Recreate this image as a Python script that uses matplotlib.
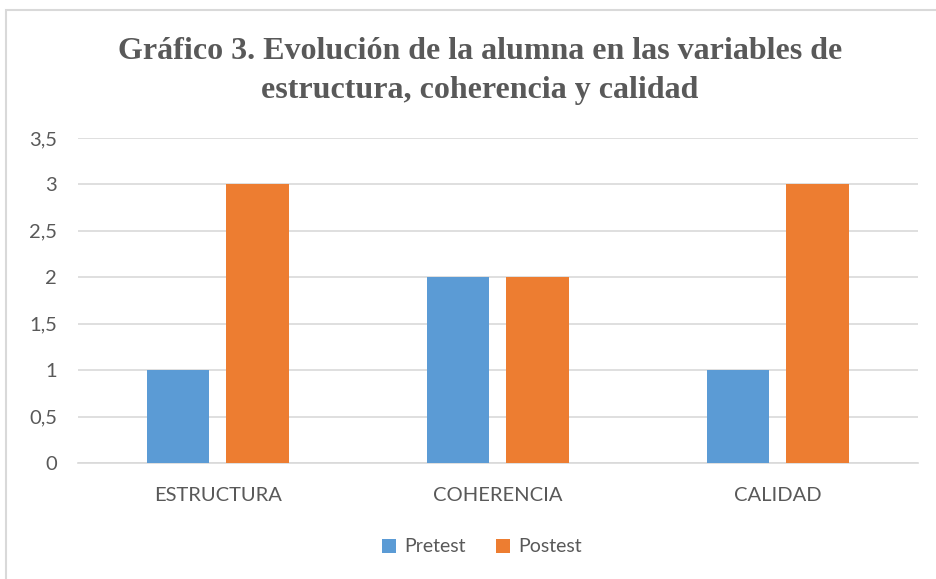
import matplotlib.pyplot as plt
import numpy as np
from matplotlib.patches import Rectangle

categorias = ["ESTRUCTURA", "COHERENCIA", "CALIDAD"]
pretest = [1, 2, 1]
postest = [3, 2, 3]
yticks = [0, 0.5, 1, 1.5, 2, 2.5, 3, 3.5]
ytick_labels = ["0", "0,5", "1", "1,5", "2", "2,5", "3", "3,5"]

W, H = 936, 579
fig = plt.figure(figsize=(W / 100, H / 100), dpi=100)
fig.patch.set_facecolor("white")

# marco del grafico
fig.patches.append(Rectangle((6 / W, -0.05), 1.1, 1 - 10 / H + 0.05,
                             transform=fig.transFigure, fill=False,
                             edgecolor="#d9d9d9", linewidth=1.5))

ax = fig.add_axes([78 / W, 1 - 463 / H, 840 / W, 325 / H])
x = np.arange(len(categorias))
ancho = 0.222
ax.bar(x - 0.143, pretest, ancho, color="#5B9BD5", label="Pretest", zorder=3)
ax.bar(x + 0.141, postest, ancho, color="#ED7D31", label="Postest", zorder=3)

ax.set_xlim(-0.5, 2.5)
ax.set_ylim(0, 3.5)
ax.set_yticks(yticks)
ax.set_yticklabels(ytick_labels)
ax.set_xticks(x)
ax.set_xticklabels(categorias)
ax.yaxis.grid(True, color="#d9d9d9", linewidth=1.2, zorder=0)
for s in ["top", "right", "left"]:
    ax.spines[s].set_visible(False)
ax.spines["bottom"].set_color("#d9d9d9")
ax.spines["bottom"].set_linewidth(1.2)
ax.tick_params(axis="both", length=0, labelsize=14.5, labelcolor="#595959")
ax.tick_params(axis="y", pad=15)
ax.tick_params(axis="x", pad=17)
for t in ax.get_xticklabels() + ax.get_yticklabels():
    t.set_fontfamily("Lato")

fig.text(480 / W, 1 - 71 / H,
         "Gráfico 3. Evolución de la alumna en las variables de\nestructura, coherencia y calidad",
         ha="center", va="center", fontsize=23, fontweight="bold",
         family="Liberation Serif", color="#595959", linespacing=1.48)

leg = fig.legend(loc="center", bbox_to_anchor=(482 / W, 1 - 547 / H), ncol=2,
                 frameon=False, handlelength=0.7, handleheight=0.7,
                 columnspacing=1.6, handletextpad=0.4,
                 prop={"family": "Lato", "size": 14})
for t in leg.get_texts():
    t.set_color("#595959")

fig.savefig("out.png", dpi=100)
